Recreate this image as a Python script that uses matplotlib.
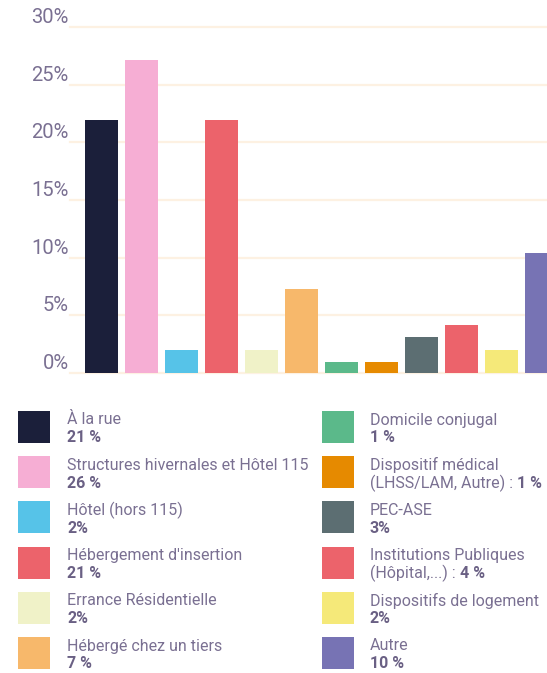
import matplotlib
matplotlib.use("Agg")
import matplotlib.pyplot as plt
from matplotlib.patches import Rectangle

plt.rcParams["font.family"] = ["Roboto", "DejaVu Sans"]

# data
CATEGORIES = [
    "À la rue", "Structures hivernales et Hôtel 115", "Hôtel (hors 115)",
    "Hébergement d'insertion", "Errance Résidentielle", "Hébergé chez un tiers",
    "Domicile conjugal", "Dispositif médical (LHSS/LAM, Autre)", "PEC-ASE",
    "Institutions Publiques (Hôpital,...)", "Dispositifs de logement", "Autre",
]
BAR_VALUES = [21.9, 27.1, 2.0, 21.9, 2.0, 7.3, 0.95, 0.95, 3.1, 4.2, 2.0, 10.4]
COLORS = ["#1b1f3a", "#f6aed4", "#56c3e8", "#ec636b", "#f0f2c8", "#f7b86b",
          "#5bb98a", "#e68a00", "#5c6e72", "#ec636b", "#f5e979", "#7773b4"]
# legend text: first line, second line (regular part), bold value
LEG_LINE1 = ["À la rue", "Structures hivernales et Hôtel 115", "Hôtel (hors 115)",
             "Hébergement d'insertion", "Errance Résidentielle", "Hébergé chez un tiers",
             "Domicile conjugal", "Dispositif médical", "PEC-ASE",
             "Institutions Publiques", "Dispositifs de logement", "Autre"]
LEG_LINE2 = ["", "", "", "", "", "", "", "(LHSS/LAM, Autre) : ", "",
             "(Hôpital,...) : ", "", ""]
LEG_VALUES = ["21 %", "26 %", "2%", "21 %", "2%", "7 %",
              "1 %", "1 %", "3%", "4 %", "2%", "10 %"]
YTICKS = [0, 5, 10, 15, 20, 25, 30]

TXT = "#7a7092"
VAL = "#6a6084"
GRID = "#fdf1e2"

W, H = 547, 673
fig = plt.figure(figsize=(W / 100, H / 100), dpi=100)

# bar chart, axes placed in pixel terms
left, right, top, bottom = 70, 547, 27, 373
ax = fig.add_axes([left / W, 1 - bottom / H, (right - left) / W, (bottom - top) / H])
x = list(range(len(BAR_VALUES)))
ax.bar(x, BAR_VALUES, width=0.825, color=COLORS, zorder=3)
ax.set_xlim(-0.7875, 11.1375)
ax.set_ylim(0, 30)
ax.set_yticks(YTICKS)
ax.set_yticklabels([f"{v}%" for v in YTICKS], fontsize=14.5, color=TXT)
for lab in ax.get_yticklabels():
    lab.set_verticalalignment("bottom")
ax.tick_params(axis="y", length=0, pad=1)
ax.set_xticks([])
for y in YTICKS:
    ax.axhline(y, color=GRID, lw=1.6, zorder=1, clip_on=False)
for s in ax.spines.values():
    s.set_visible(False)

# legend drawn in pixel coordinates
lg = fig.add_axes([0, 0, 1, 1])
lg.set_xlim(0, W)
lg.set_ylim(H, 0)
lg.axis("off")
n_rows = 6
for i, lab in enumerate(LEG_LINE1):
    col, row = divmod(i, n_rows)
    sx = 18 if col == 0 else 322
    tx = 67 if col == 0 else 370
    sy = 411 + row * 45.2
    lg.add_patch(Rectangle((sx, sy), 32, 32, color=COLORS[i], lw=0))
    lg.text(tx, sy + 9, lab, fontsize=11.5, color=TXT, va="center", ha="left")
    if LEG_LINE2[i]:
        t = lg.text(tx, sy + 27, LEG_LINE2[i], fontsize=11.5, color=TXT,
                    va="center", ha="left")
        lg.annotate(LEG_VALUES[i], xy=(1, 0.5), xycoords=t, va="center",
                    ha="left", fontsize=11.5, color=VAL, fontweight="bold")
    else:
        lg.text(tx, sy + 27, LEG_VALUES[i], fontsize=11.5, color=VAL,
                fontweight="bold", va="center", ha="left")

fig.savefig("out.png", dpi=100)
